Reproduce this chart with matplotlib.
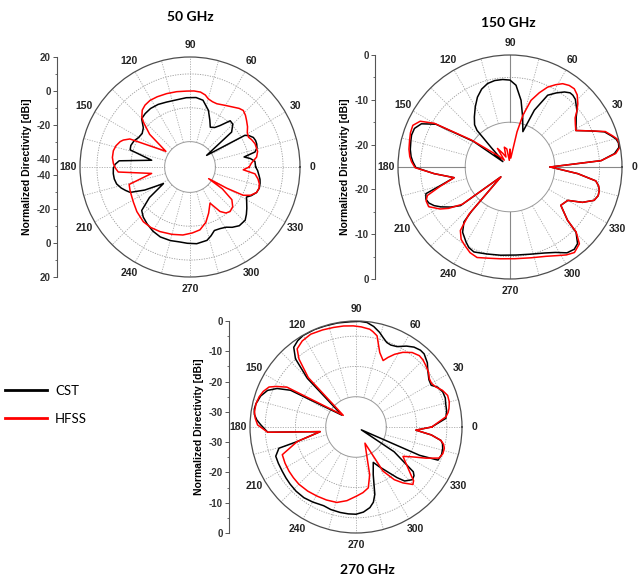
import numpy as np
import matplotlib.pyplot as plt
from matplotlib.lines import Line2D

plt.rcParams['font.family'] = ['Liberation Sans', 'DejaVu Sans']

# normalized directivity cuts (angle in deg, value in dBi)
ang_50_cst = [0, 5, 8, 10.5, 13, 16, 19, 22, 25, 28, 30, 35, 40, 45, 49, 54, 58, 63, 67, 72,
              79, 85, 93, 100, 110, 117, 124, 130, 135, 140, 145, 150, 155, 160, 164, 170, 175, 178, 181, 185,
              189, 193, 197, 200, 203, 207, 212, 217, 222, 227, 233, 240, 247, 255, 262, 268, 275, 283, 287, 291,
              296, 301, 305, 310, 316, 320, 324, 328, 332, 335, 339, 343, 347, 350, 353, 357]
db_50_cst = [-6.2, -6.5, -9, -12.5, -5.6, -3.8, -3.3, -3.2, -3.7, -5.5, -7.6, -33, -12.9, -9.2, -8.8, -14.7, -17.5, -18.6, -15, -9.8,
             -4.8, -3.8, -4, -4.5, -4.2, -3.5, -3.3, -3.8, -4.6, -9, -10.5, -10, -8.5, -7.8, -8.2, -22, -3, -0.7, 0.3, 0.5,
             0.3, -0.5, -2.5, -4.5, -6.6, -15, -26.5, -15, -6.6, -4.5, -2.9, -1.2, -0.1, 0, -0.3, 0.1, 0.5, -0.5, -2.5, -4.8,
             -4.5, -3.5, -1.5, 0.3, 0.3, -1.5, -3.5, -5.5, -7.2, -5, -2.9, -2.2, -2.5, -3, -3.9, -5]

ang_50_hfss = [0, 3.7, 8.5, 13, 19.7, 24, 27, 31, 35, 39.5, 43, 46.7, 50, 54, 60, 67, 71, 75, 78, 82,
               87, 92.5, 100, 107.6, 115, 121, 126, 130, 134, 136, 141, 147, 155, 158, 160, 164, 168, 173, 177.5, 181,
               184, 189.5, 196, 201, 206, 212, 220, 229.5, 237, 245, 255, 264, 272, 279, 286, 292, 299, 304, 308, 312,
               317, 322, 326, 328, 330, 332, 335, 339, 343, 346.5, 350, 354, 357]
db_50_hfss = [-10, -8.6, -5.2, -4, -4.2, -5.2, -6.2, -5.5, -3.5, -1.7, -0.2, 0.9, 0.2, -1.3, -3, -4.4, -4.2, -3.3, -1.5, -0.3,
              0, -0.1, 0.2, 0.5, 0.8, 0.9, 0.2, -1.1, -4, -6.6, -14.3, -28, -5.8, -2.5, -1.1, 0.5, 1.3, 1.2, 0.3, -1,
              -2.5, -22, -7.6, -7, -6.5, -5.6, -4, -2.5, -2.4, -2.9, -3.8, -4.6, -6, -7.4, -11, -15.6, -20.6, -13.3, -10.5, -9.6,
              -10.5, -13.6, -22, -32, -20, -9.4, -5.5, -2.9, -2.3, -2.9, -4.2, -6.4, -13.5]

ang_150_cst = [0, 4, 7.3, 10.2, 12.5, 14.7, 17, 20.4, 24, 29, 33, 37, 40, 43, 46, 48.8, 51, 54, 58, 62.3,
               66.8, 70, 75.8, 80.6, 85.8, 90, 94.8, 100, 105, 110, 115, 120, 125.5, 130, 132, 134, 137, 140, 143, 145,
               150, 154, 158, 162, 165, 170, 174, 177, 180.4, 185, 190.8, 195.5, 197.6, 201, 204, 207, 210, 214, 218, 227,
               229, 230, 234, 239.6, 243, 247, 255, 264, 274, 283.4, 292, 298, 303.6, 308, 311.4, 315.4, 317.2, 323, 330, 334,
               338.4, 342, 345.4, 348, 350.8, 354.4]
db_150_cst = [-16, -4.6, -1.5, -0.3, -0.2, -0.5, -1.3, -2.5, -5.2, -8.2, -7.4, -6.5, -5.5, -4.8, -4, -3.7, -3.7, -4.3, -5.5, -6.9,
              -11.2, -16.6, -13.5, -9.9, -6.7, -5.6, -5.4, -5.4, -5.7, -6.5, -7.8, -9.5, -11.3, -12.7, -14, -19, -22, -20.5, -23, -15,
              -5.9, -3, -2, -1.9, -2.1, -2.4, -2.8, -3.3, -4, -8, -12.3, -8.3, -5.3, -4.9, -5.2, -6, -7.2, -9, -11, -22,
              -12, -9, -7, -5.6, -4.8, -4.4, -4.9, -5.2, -5.3, -5, -4.3, -3.4, -2, -1.7, -2.2, -4.3, -7.5, -10.8, -10.1, -7,
              -4.8, -4.3, -4.4, -4.8, -5.6, -9.8]

ang_150_hfss = [0, 4, 7.3, 10.2, 12.5, 14.7, 17, 20.4, 24, 29, 33, 37, 40, 43, 47, 50.6, 54, 57.7, 61, 64.8,
                68.5, 72.5, 76, 78.7, 81, 85, 90, 96, 100, 106, 112, 118, 124, 130, 136, 140, 145, 150, 153, 156.8,
                161, 165, 170, 174, 177, 180.4, 185, 190.8, 195.5, 199, 202, 206, 211, 214, 218, 227.5, 229, 232, 236, 240,
                245, 250, 257, 264, 273, 283, 292, 298, 302.6, 307, 312.1, 315.5, 317.2, 323, 330, 334, 338.4, 342, 345.4, 348,
                350.8, 354.4]
db_150_hfss = [-16, -4.6, -1.2, -0.1, -0.1, -0.3, -1.1, -2.3, -5.2, -8.2, -7.6, -6.8, -5.5, -4.3, -3, -2.4, -2.5, -3, -4, -5.3,
               -7.2, -9.4, -13.1, -17, -21.2, -23, -21, -23.5, -20.9, -20.4, -22.6, -21.5, -20, -23, -21.4, -20, -14.5, -5.5, -2.5, -1.4,
               -1.5, -1.8, -2.1, -2.5, -3, -3.8, -8, -12.3, -8.8, -5.5, -4.8, -4.8, -6.8, -8.5, -11.5, -22, -11, -7, -5.5, -4.8,
               -3.9, -3.5, -4.1, -4.4, -4.5, -4.2, -3.5, -2.6, -1.7, -1.1, -1.9, -4.3, -7.5, -10.8, -10.1, -7, -4.8, -4.3, -4.4, -4.8,
               -5.6, -9.8]

ang_270_cst = [0, 5.5, 10, 14.6, 18, 22, 26, 29, 33, 38, 42, 47, 50, 54, 58, 63, 67, 70, 73, 76,
               80, 84, 88, 93, 100, 107, 113, 120, 124, 128, 131.6, 135, 140, 150.7, 154, 157.5, 162, 166.8, 170, 173,
               176, 178.8, 183.4, 187.4, 193.9, 195.4, 200, 205, 211, 216, 221, 227, 233.6, 240, 247.7, 253, 259.5, 265, 270, 275,
               279.8, 283, 285.6, 289.9, 296, 300, 305, 309, 312, 317, 320, 322, 327, 332, 336, 338, 342, 346, 349, 351,
               354, 357]
db_270_cst = [-10, -5.2, -4.6, -4.4, -4, -4.1, -5, -6.6, -6.3, -4.9, -3.3, -2, -1.9, -2.4, -3.5, -5.2, -5.6, -5.3, -4.2, -2.8,
              -1.3, -0.3, -0.1, -0.2, -0.1, -0.1, 0, -0.1, -0.6, -1.6, -4.9, -12.3, -28.9, -10.2, -6, -3.4, -1.9, -1.1, -0.9, -1.2,
              -2.2, -3.6, -5.8, -23.1, -15, -8.6, -6.8, -6.7, -6.6, -6.4, -6.2, -6, -6, -6.4, -6.9, -6.5, -6.3, -6.2, -6.2, -6.8,
              -8, -9.5, -11.9, -18.3, -22, -20, -17, -13.5, -11, -9.5, -10, -11, -20, -33, -12, -5.8, -5.3, -5.5, -5.9, -6.6,
              -10, -15.2]

ang_270_hfss = [0, 6.5, 9, 11.2, 15, 19, 23, 26.6, 30, 33.3, 37, 41.3, 45, 48.4, 53, 57.9, 62, 65.3, 67.8, 72.3,
                77, 80, 82, 87, 91.5, 97, 102.7, 109, 116, 122, 127, 130, 134, 137.5, 150, 153, 155.3, 159, 162.7, 167,
                171.5, 175, 178.8, 183.4, 187.4, 193.9, 200.6, 207, 213.4, 219, 225, 233, 240.5, 248, 255.8, 263, 270.5, 276, 281.4, 286,
                291, 299, 301.5, 306, 310, 314.7, 317, 319, 323, 328, 332, 336, 339.5, 343, 346.5, 349, 351, 354, 357]
db_270_hfss = [-10, -5.1, -4.2, -3.7, -3.1, -3, -4, -5.5, -6.2, -6, -5, -4.3, -3.7, -3.5, -4.2, -5.9, -7.8, -9.7, -11.3, -9.2,
               -4.1, -3, -2.4, -1.9, -1.6, -1.4, -1.3, -1.1, -0.9, -1.5, -2.7, -5.7, -12.3, -29.3, -8.7, -5.5, -3.4, -2.2, -1.5, -1.1,
               -1.1, -1.6, -2.5, -5.8, -23.1, -15, -9, -8.7, -8.5, -8.4, -8.3, -8.5, -8.8, -9, -9.3, -10.5, -12.2, -13.2, -14.5, -18.6,
               -25.2, -28.9, -17.9, -13.5, -10.9, -8.3, -9, -11, -14, -16.7, -14, -9.7, -5.7, -5, -5, -5.6, -6.6, -10, -15.2]

W, H = 638, 581
fig = plt.figure(figsize=(W / 100, H / 100), dpi=100)


def panel(cx, cy, R, rmin, rmax, rings, ticks, minor, axis_x, title, title_xy, curves, solid_axes=False):
    ax = fig.add_axes([(cx - R) / W, 1 - (cy + R) / H, 2 * R / W, 2 * R / H], projection='polar')
    ax.set_ylim(rmin, rmax)
    ax.set_xticks([])
    ax.set_yticks([])
    ax.grid(False)
    ax.spines['polar'].set_color('#4d4d4d')
    ax.spines['polar'].set_linewidth(0.9)

    th = np.linspace(0, 2 * np.pi, 361)
    inner = rings[0]
    ax.plot(th, np.full_like(th, inner), color='#999999', lw=0.7)
    for v in rings[1:]:
        ax.plot(th, np.full_like(th, v), color='#999999', lw=0.6, ls=(0, (1.5, 1.5)))
    for a in range(0, 360, 15):
        if solid_axes and a % 90 == 0:
            ax.plot([np.deg2rad(a)] * 2, [inner, rmax], color='#888888', lw=0.8)
        else:
            ax.plot([np.deg2rad(a)] * 2, [inner, rmax], color='#aaaaaa', lw=0.6, ls=(0, (1.5, 1.5)))

    lab_r = rmax + 12 * (rmax - rmin) / R
    for a in range(0, 360, 30):
        ax.text(np.deg2rad(a), lab_r, str(a), ha='center', va='center',
                fontsize=7.5, fontweight='bold', color='#222222')

    for ang, db, col in curves:
        th_c = np.deg2rad(ang + [ang[0] + 360])
        ax.plot(th_c, db + [db[0]], color=col, lw=1.1)

    # mirrored radial scale on the left
    rx = fig.add_axes([axis_x / W, 1 - (cy + R) / H, 0.001, 2 * R / H])
    rx.set_ylim(-1, 1)
    rx.patch.set_visible(False)
    for s in ['top', 'right', 'bottom']:
        rx.spines[s].set_visible(False)
    rx.spines['left'].set_color('#555555')
    rx.spines['left'].set_linewidth(0.8)
    rx.set_xticks([])
    pos = [(v - rmin) / (rmax - rmin) for v in ticks]
    rx.set_yticks(pos + [-p for p in pos])
    rx.set_yticklabels([f'{v:g}' for v in ticks] * 2, fontweight='bold')
    mpos = [(v - rmin) / (rmax - rmin) for v in minor]
    rx.set_yticks(mpos + [-p for p in mpos], minor=True)
    rx.tick_params(axis='y', which='major', labelsize=7, length=3, width=0.7,
                   color='#555555', labelcolor='#333333', pad=1.5)
    rx.tick_params(axis='y', which='minor', length=1.8, width=0.6, color='#555555')
    rx.set_ylabel('Normalized Directivity [dBi]', fontsize=7.5, fontweight='bold', labelpad=3)

    fig.text(title_xy[0] / W, 1 - title_xy[1] / H, title, ha='center', va='center',
             fontsize=10, fontweight='bold', family=['Lato', 'DejaVu Sans'])


panel(190, 167, 110, -45, 20, [-30, -10, 10], [20, 0, -20, -40], [10, -10, -30],
      57, '50 GHz', (190, 17),
      [(ang_50_cst, db_50_cst, 'black'), (ang_50_hfss, db_50_hfss, 'red')])

panel(510, 167, 112, -25, 0, [-15, -5], [0, -10, -20], [-5, -15],
      375, '150 GHz', (508, 23),
      [(ang_150_cst, db_150_cst, 'black'), (ang_150_hfss, db_150_hfss, 'red')], solid_axes=True)

panel(356, 427, 106, -35, 0, [-25, -15, -5], [0, -10, -20, -30], [-5, -15, -25],
      229, '270 GHz', (367, 570),
      [(ang_270_cst, db_270_cst, 'black'), (ang_270_hfss, db_270_hfss, 'red')])

handles = [Line2D([], [], color='black', lw=2), Line2D([], [], color='red', lw=2)]
fig.legend(handles, ['CST', 'HFSS'], loc='upper left', bbox_to_anchor=(5 / W, 1 - 385 / H),
           frameon=False, handlelength=3.2, handletextpad=0.6, labelspacing=1.2,
           borderpad=0, borderaxespad=0, prop={'family': ['Lato', 'DejaVu Sans'], 'size': 9.5})

fig.savefig('out.png', dpi=100)
